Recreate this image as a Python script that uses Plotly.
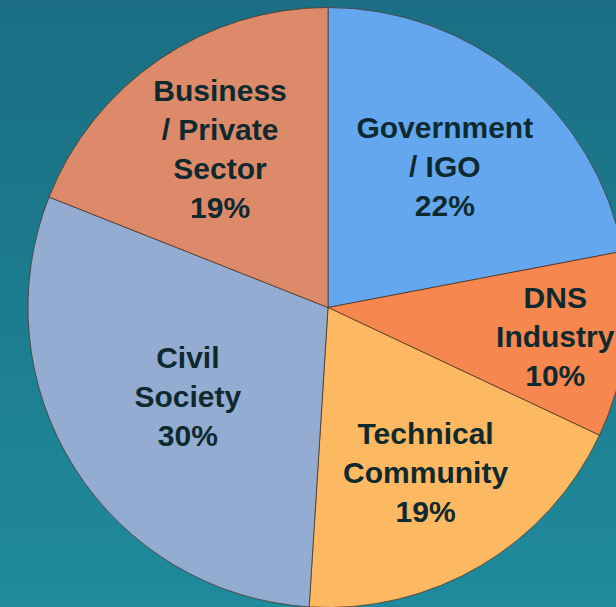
import plotly.graph_objects as go

labels = ["Government / IGO", "DNS Industry", "Technical Community", "Civil Society", "Business / Private Sector"]
values = [22, 10, 19, 30, 19]
texts = ["Government<br>/ IGO<br>22%", "DNS<br>Industry<br>10%", "Technical<br>Community<br>19%",
         "Civil<br>Society<br>30%", "Business<br>/ Private<br>Sector<br>19%"]
colors = ["#64a7ef", "#f5874f", "#fdb862", "#94acd1", "#dd8a6b"]

W, H = 640, 620

fig = go.Figure()

# background gradient
fig.add_trace(go.Scatter(
    x=[0, 1, 1, 0, 0], y=[0, 0, 1, 1, 0], mode="lines", fill="toself",
    line=dict(width=0), hoverinfo="skip", showlegend=False,
    fillgradient=dict(type="vertical", colorscale=[[0, "#1f8b9c"], [1, "#1b6e83"]]),
))

fig.add_trace(go.Pie(
    labels=labels, values=values, text=texts, textinfo="text",
    sort=False, direction="clockwise", rotation=0,
    marker=dict(colors=colors, line=dict(color="rgba(70,45,30,0.7)", width=1)),
    textposition="inside", insidetextorientation="horizontal",
    textfont=dict(family="Liberation Sans, Arial, sans-serif", size=30, color="#0e2a2f", weight="bold"),
    domain=dict(x=[28 / W, 628 / W], y=[(H - 608) / H, (H - 7) / H]),
    showlegend=False, hoverinfo="label+percent",
))

fig.update_layout(
    width=W, height=H, margin=dict(l=0, r=0, t=0, b=0),
    paper_bgcolor="#1c7a8e", plot_bgcolor="rgba(0,0,0,0)",
    xaxis=dict(visible=False, range=[0, 1], domain=[0, 1], fixedrange=True),
    yaxis=dict(visible=False, range=[0, 1], domain=[0, 1], fixedrange=True),
    uniformtext=dict(minsize=30, mode="show"),
)

fig.write_html(
    "out.html",
    config={"displayModeBar": False},
    post_script="document.body.style.margin='0';document.body.style.overflow='hidden';",
)
